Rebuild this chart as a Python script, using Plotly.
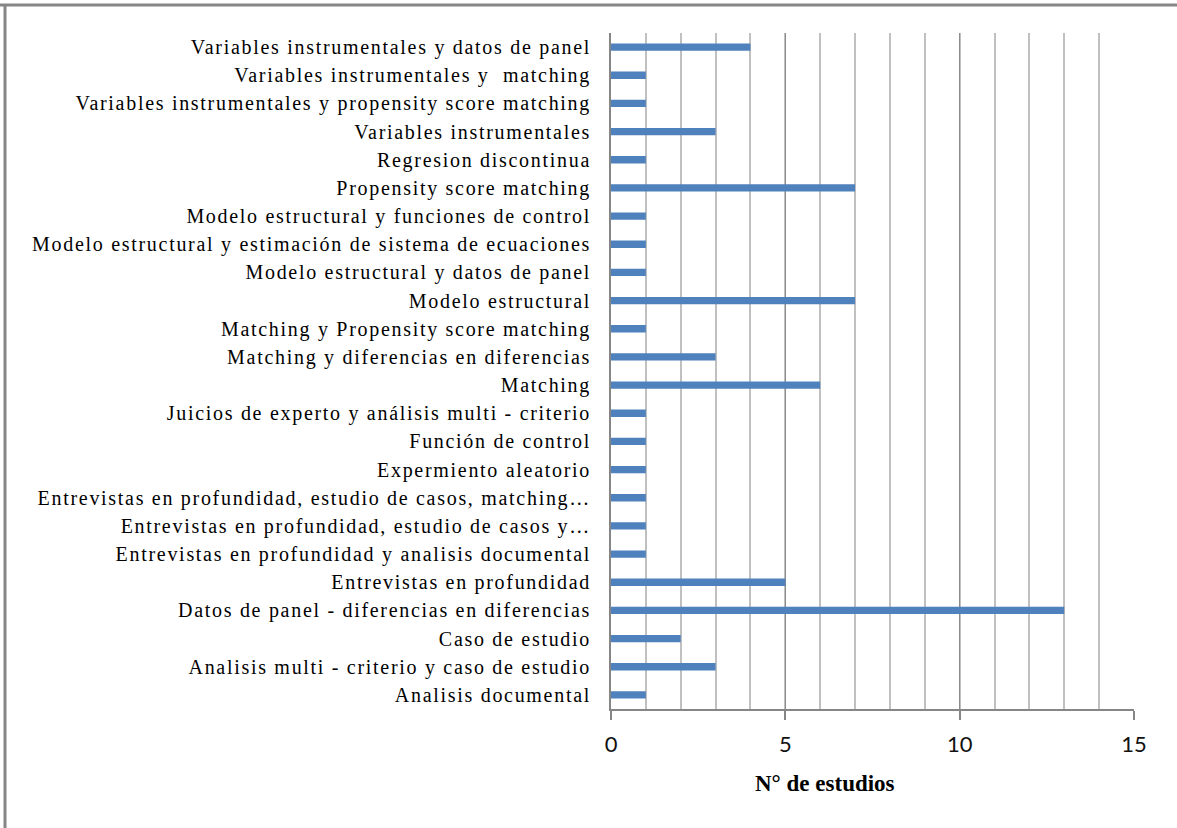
import plotly.graph_objects as go

# Methods and number of studies, listed top to bottom
methods = [
    "Variables instrumentales y datos de panel",
    "Variables instrumentales y  matching",
    "Variables instrumentales y propensity score matching",
    "Variables instrumentales",
    "Regresion discontinua",
    "Propensity score matching",
    "Modelo estructural y funciones de control",
    "Modelo estructural y estimación de sistema de ecuaciones",
    "Modelo estructural y datos de panel",
    "Modelo estructural",
    "Matching y Propensity score matching",
    "Matching y diferencias en diferencias",
    "Matching",
    "Juicios de experto y análisis multi - criterio",
    "Función de control",
    "Expermiento aleatorio",
    "Entrevistas en profundidad, estudio de casos, matching…",
    "Entrevistas en profundidad, estudio de casos y…",
    "Entrevistas en profundidad y analisis documental",
    "Entrevistas en profundidad",
    "Datos de panel - diferencias en diferencias",
    "Caso de estudio",
    "Analisis multi - criterio y caso de estudio",
    "Analisis documental",
]
n_studies = [4, 1, 1, 3, 1, 7, 1, 1, 1, 7, 1, 3, 6, 1, 1, 1, 1, 1, 1, 5, 13, 2, 3, 1]

x_ticks = [0, 5, 10, 15]
x_title = "N° de estudios"

labels = [m.replace("  ", "\u00a0 ") for m in methods]

fig = go.Figure(
    go.Bar(
        x=n_studies,
        y=labels,
        orientation="h",
        width=0.26,
        marker=dict(color="#4F81BD", line=dict(width=0)),
    )
)

fig.update_layout(
    width=1177,
    height=828,
    margin=dict(l=611, r=43, t=33, b=119),
    paper_bgcolor="white",
    plot_bgcolor="white",
    showlegend=False,
    font=dict(family="Liberation Serif", color="black"),
)

fig.update_xaxes(
    range=[0, 15],
    tickvals=x_ticks,
    ticktext=[str(v) for v in x_ticks],
    tickfont=dict(family="Lato", size=22, color="#111"),
    ticks="outside",
    ticklen=9,
    tickwidth=2,
    tickcolor="#868686",
    showline=True,
    linecolor="#868686",
    linewidth=2,
    showgrid=True,
    gridcolor="#8C8C8C",
    gridwidth=1,
    minor=dict(dtick=1, tick0=0, showgrid=True, gridcolor="#C0C0C0", gridwidth=1.5, ticks=""),
    zeroline=False,
    ticklabelstandoff=6,
)

fig.update_yaxes(
    categoryorder="array",
    categoryarray=labels[::-1],
    tickfont=dict(family="Liberation Serif", size=20, color="black"),
    ticks="",
    showline=True,
    linecolor="#868686",
    linewidth=2,
    showgrid=False,
    ticklabelstandoff=14,
)

fig.add_annotation(
    text="<b>" + x_title + "</b>",
    xref="paper", yref="paper",
    x=0.409, y=-0.11,
    xanchor="center", yanchor="middle",
    showarrow=False,
    font=dict(family="Liberation Serif", size=23, color="black"),
)

# Frame lines along the top and left of the figure
fig.add_shape(type="line", xref="paper", yref="paper",
              x0=-611 / 523, x1=(1177 - 611) / 523, y0=1 + 28 / 676, y1=1 + 28 / 676,
              line=dict(color="#868686", width=3))
fig.add_shape(type="line", xref="paper", yref="paper",
              x0=-606 / 523, x1=-606 / 523, y0=1 + 28 / 676, y1=-119 / 676,
              line=dict(color="#868686", width=3))

# Spaced-out lettering for the category labels
spacing_js = """
var gd = document.getElementsByClassName('plotly-graph-div')[0];
function spaceLabels() {
  gd.querySelectorAll('.ytick text').forEach(function (t) {
    t.style.letterSpacing = '1.7px';
  });
}
spaceLabels();
gd.on('plotly_afterplot', spaceLabels);
"""

fig.write_html("out.html", post_script=spacing_js)
